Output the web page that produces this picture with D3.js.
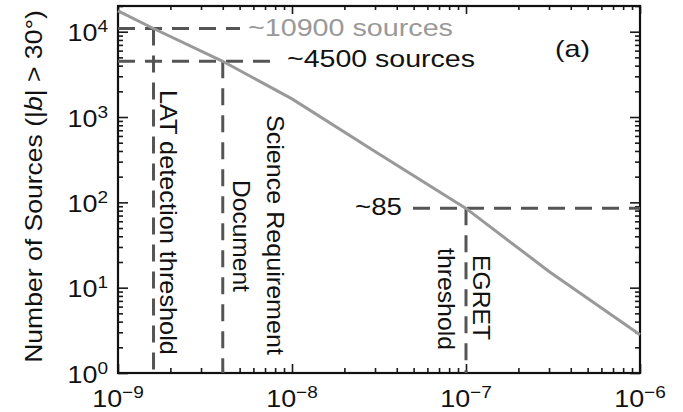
<!DOCTYPE html>
<html><head><meta charset="utf-8">
<script src="https://cdn.jsdelivr.net/npm/d3@7"></script>
<style>
html,body{margin:0;padding:0;background:#fff;}
svg{display:block;}
text{font-family:"Liberation Sans",Arial,Helvetica,sans-serif;}
</style></head>
<body>
<svg id="chart" width="683" height="412"></svg>
<script>
// ---- data ----
const fluxes = [1e-9, 1.6e-9, 4e-9, 1e-8, 3e-8, 1e-7, 3e-7, 1e-6];
const counts = [17500, 10900, 4500, 1630, 395, 85, 15.5, 2.8];
const xTicks = [1e-9, 1e-8, 1e-7, 1e-6];
const xTickExps = ["\u22129", "\u22128", "\u22127", "\u22126"];
const yTicks = [1, 10, 100, 1000, 10000];
const yTickExps = ["0", "1", "2", "3", "4"];
const thresholdFlux = [1.6e-9, 4e-9, 1e-7];
const thresholdCounts = [10900, 4500, 85];
const countLabels = ["~10900 sources", "~4500 sources", "~85"];
const thresholdLabels = [["LAT detection threshold"], ["Science Requirement", "Document"], ["EGRET", "threshold"]];
const yLabelMain = "Number of Sources  (|";
const yLabelItalic = "b";
const yLabelEnd = "| > 30\u00b0)";
const panelLabel = "(a)";

// ---- layout ----
const L = 118, R = 640, T = 6, B = 373;
const svg = d3.select("#chart");
const x = d3.scaleLog().domain([1e-9, 1e-6]).range([L, R]);
const y = d3.scaleLog().domain([1, 2e4]).range([B, T]);

function minorTicks(lo, hi, maxV) {
  const out = [];
  for (let d = lo; d <= hi; d++) for (let k = 2; k <= 9; k++) {
    const v = k * Math.pow(10, d);
    if (v <= maxV) out.push(v);
  }
  return out;
}
const xMinor = minorTicks(-9, -7, 1e-6);
const yMinor = minorTicks(0, 4, 2e4);

function fit(sel, len) {
  const node = sel.node();
  const w = node.getComputedTextLength();
  const prev = sel.attr("transform") || "";
  sel.attr("transform", prev + ` scale(${len / w},1)`);
}

// axes (inward ticks on all four sides)
function styleAxis(g) {
  g.select(".domain").remove();
  g.selectAll(".tick line").attr("stroke", "#1a1a1a").attr("stroke-width", 1.6);
  g.selectAll(".tick text").remove();
}
svg.append("g").attr("transform", `translate(0,${B})`)
  .call(d3.axisBottom(x).tickValues(xTicks).tickSize(-9).tickFormat("")).call(styleAxis);
svg.append("g").attr("transform", `translate(0,${B})`)
  .call(d3.axisBottom(x).tickValues(xMinor).tickSize(-5).tickFormat("")).call(styleAxis);
svg.append("g").attr("transform", `translate(0,${T})`)
  .call(d3.axisTop(x).tickValues(xTicks).tickSize(-8).tickFormat("")).call(styleAxis);
svg.append("g").attr("transform", `translate(0,${T})`)
  .call(d3.axisTop(x).tickValues(xMinor).tickSize(-4).tickFormat("")).call(styleAxis);
svg.append("g").attr("transform", `translate(${L},0)`)
  .call(d3.axisLeft(y).tickValues(yTicks).tickSize(-10).tickFormat("")).call(styleAxis);
svg.append("g").attr("transform", `translate(${L},0)`)
  .call(d3.axisLeft(y).tickValues(yMinor).tickSize(-5).tickFormat("")).call(styleAxis);
svg.append("g").attr("transform", `translate(${R},0)`)
  .call(d3.axisRight(y).tickValues(yTicks).tickSize(-10).tickFormat("")).call(styleAxis);
svg.append("g").attr("transform", `translate(${R},0)`)
  .call(d3.axisRight(y).tickValues(yMinor).tickSize(-5).tickFormat("")).call(styleAxis);

// frame
svg.append("rect").attr("x", L).attr("y", T).attr("width", R - L).attr("height", B - T)
  .attr("fill", "none").attr("stroke", "#111").attr("stroke-width", 2.2);

// tick labels
const TS = 1.12;
xTicks.forEach((v, i) => {
  const t = svg.append("text").attr("transform", `translate(${x(v)},407) scale(${TS},1)`)
    .attr("text-anchor", "middle").attr("font-size", 24).attr("fill", "#111");
  t.append("tspan").text("10");
  t.append("tspan").attr("dy", -9).attr("font-size", 17).text(xTickExps[i]);
});
yTicks.forEach((v, i) => {
  const t = svg.append("text").attr("transform", `translate(108,${y(v) + 9.5}) scale(${TS},1)`)
    .attr("text-anchor", "end").attr("font-size", 24).attr("fill", "#111");
  t.append("tspan").text("10");
  t.append("tspan").attr("dy", -9).attr("font-size", 17).text(yTickExps[i]);
});

// y axis title
const yt = svg.append("text").attr("transform", "translate(42,186.5) rotate(-90)")
  .attr("text-anchor", "middle").attr("font-size", 23).attr("fill", "#111");
yt.append("tspan").text(yLabelMain);
yt.append("tspan").attr("font-style", "italic").text(yLabelItalic);
yt.append("tspan").text(yLabelEnd);
fit(yt, 353);

// dashed threshold lines
const dash = { stroke: "#555", "stroke-width": 3, "stroke-dasharray": "17,10", fill: "none" };
function dashed(x1, y1, x2, y2) {
  const l = svg.append("line").attr("x1", x1).attr("y1", y1).attr("x2", x2).attr("y2", y2);
  Object.entries(dash).forEach(([k, v]) => l.attr(k, v));
}
const hEnds = [[L, 240], [L, 277], [413, R]];
thresholdFlux.forEach((f, i) => {
  dashed(x(f), y(thresholdCounts[i]), x(f), B);
  dashed(hEnds[i][0], y(thresholdCounts[i]), hEnds[i][1], y(thresholdCounts[i]));
});

// curve
svg.append("path").datum(fluxes.map((f, i) => [f, counts[i]]))
  .attr("d", d3.line().x(d => x(d[0])).y(d => y(d[1])))
  .attr("fill", "none").attr("stroke", "#999").attr("stroke-width", 3);

// count labels
const cl = [
  { x: 248, y: 36, len: 205, color: "#999" },
  { x: 287, y: 67, len: 188, color: "#111" },
  { x: 355, y: 215, len: 47, color: "#111" }
];
countLabels.forEach((s, i) => {
  const t = svg.append("text").attr("transform", `translate(${cl[i].x},${cl[i].y})`)
    .attr("font-size", 23).attr("fill", cl[i].color).text(s);
  fit(t, cl[i].len);
});

// panel label
const pa = svg.append("text").attr("transform", "translate(555,57)").attr("font-size", 23)
  .attr("fill", "#111").text(panelLabel);
fit(pa, 35);

// vertical threshold labels
const vl = [
  [{ x: 160, y: 90, len: 265 }],
  [{ x: 267, y: 115, len: 240 }, { x: 233, y: 180, len: 112 }],
  [{ x: 473, y: 255, len: 85 }, { x: 438, y: 248, len: 102 }]
];
thresholdLabels.forEach((lines, i) => {
  lines.forEach((s, j) => {
    const p = vl[i][j];
    const t = svg.append("text").attr("transform", `translate(${p.x},${p.y}) rotate(90)`)
      .attr("font-size", 23).attr("fill", "#111").text(s);
    fit(t, p.len);
  });
});
</script>
</body></html>
